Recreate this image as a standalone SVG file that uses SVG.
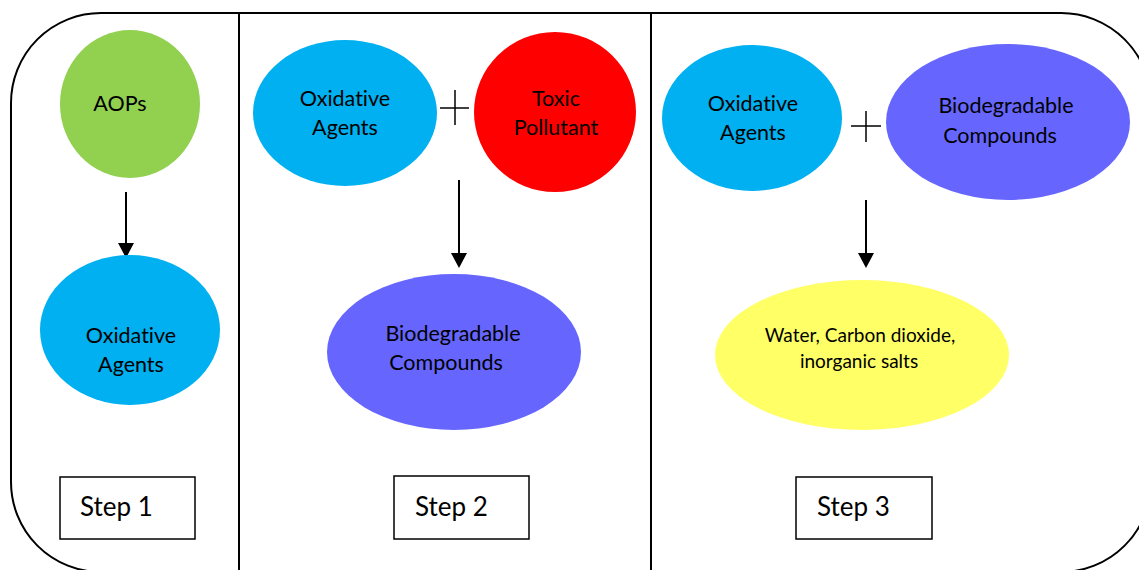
<svg xmlns="http://www.w3.org/2000/svg" width="1139" height="570" viewBox="0 0 1139 570">
<defs>
<style>
text{font-variant-ligatures:none;font-feature-settings:"liga" 0,"dlig" 0}
.lbl{font-family:Lato,"Liberation Sans",sans-serif;font-size:21.5px;fill:#000;text-anchor:middle}
.small{font-size:19px}
.step{font-family:Lato,"Liberation Sans",sans-serif;font-size:26px;fill:#000}
.box{fill:#fff;stroke:#000;stroke-width:1.5}
.con{stroke:#000;stroke-width:2;fill:none}
.plus{stroke:#000;stroke-width:1.5}
</style>
</defs>
<rect width="1139" height="570" fill="#fff"/>
<g id="frame">
<rect x="11" y="13" width="1140" height="559" rx="90" ry="90" fill="none" stroke="#000" stroke-width="2"/>
<line x1="239" y1="13" x2="239" y2="572" stroke="#000" stroke-width="2"/>
<line x1="651" y1="13" x2="651" y2="572" stroke="#000" stroke-width="2"/>
</g>
<g id="connectors">
<path class="con" d="M126,192 V243" />
<path d="M118,243 L134,243 L126,258 Z" fill="#000"/>
<path class="con" d="M459,180 V253" />
<path d="M451,253 L467,253 L459,268 Z" fill="#000"/>
<path class="con" d="M866,200 V253" />
<path d="M858,253 L874,253 L866,268 Z" fill="#000"/>
</g>
<g id="aops">
<ellipse cx="130" cy="104" rx="70" ry="74" fill="#92D050"/>
<text class="lbl" x="120" y="111">AOPs</text>
</g>
<g id="ox1">
<ellipse cx="130" cy="330" rx="90" ry="75" fill="#00B0F0"/>
<text class="lbl" x="131" y="343">Oxidative</text>
<text class="lbl" x="131" y="372">Agents</text>
</g>
<g id="step1">
<rect class="box" x="60" y="477" width="135" height="62"/>
<text class="step" x="80" y="516">Step 1</text>
</g>
<g id="ox2">
<ellipse cx="345" cy="113" rx="92" ry="73" fill="#00B0F0"/>
<text class="lbl" x="345" y="106">Oxidative</text>
<text class="lbl" x="345" y="135">Agents</text>
</g>
<g id="plus2">
<line class="plus" x1="440" y1="108" x2="469" y2="108"/>
<line class="plus" x1="455" y1="90" x2="455" y2="125"/>
</g>
<g id="toxic">
<ellipse cx="555" cy="112" rx="81" ry="80" fill="#FF0000"/>
<text class="lbl" x="556" y="106">Toxic</text>
<text class="lbl" x="556" y="135">Pollutant</text>
</g>
<g id="bio2">
<ellipse cx="454" cy="352" rx="127" ry="78" fill="#6666FF"/>
<text class="lbl" x="453" y="341">Biodegradable</text>
<text class="lbl" x="446" y="370">Compounds</text>
</g>
<g id="step2">
<rect class="box" x="394" y="476" width="135" height="63"/>
<text class="step" x="415" y="516">Step 2</text>
</g>
<g id="ox3">
<ellipse cx="752" cy="118" rx="90" ry="73" fill="#00B0F0"/>
<text class="lbl" x="753" y="111">Oxidative</text>
<text class="lbl" x="753" y="140">Agents</text>
</g>
<g id="plus3">
<line class="plus" x1="851" y1="126" x2="881" y2="126"/>
<line class="plus" x1="866" y1="111" x2="866" y2="142"/>
</g>
<g id="bio3">
<ellipse cx="1008" cy="122" rx="122" ry="78" fill="#6666FF"/>
<text class="lbl" x="1006" y="113">Biodegradable</text>
<text class="lbl" x="1000" y="143">Compounds</text>
</g>
<g id="products">
<ellipse cx="862" cy="355" rx="147" ry="75" fill="#FFFF66"/>
<text class="lbl small" x="860" y="342">Water, Carbon dioxide,</text>
<text class="lbl small" x="859" y="368">inorganic salts</text>
</g>
<g id="step3">
<rect class="box" x="796" y="477" width="136" height="62"/>
<text class="step" x="817" y="516">Step 3</text>
</g>
</svg>
